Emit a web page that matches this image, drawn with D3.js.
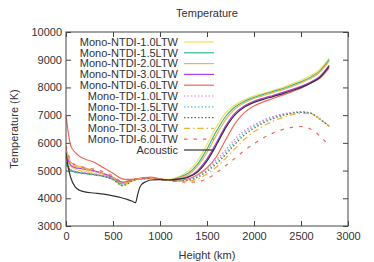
<!DOCTYPE html>
<html>
<head>
<meta charset="utf-8">
<script src="https://cdn.jsdelivr.net/npm/d3@7"></script>
<style>
  body { margin: 0; background: #fff; }
  text { font-family: "Liberation Sans", Arial, sans-serif; }
  .axis text { font-size: 11px; fill: #333; }
  .axis line { stroke: #444; }
  .axis path { display: none; }
</style>
</head>
<body>
<script>
let margin = {left: 66, top: 32, right: 26, bottom: 36};
let width = 374 - margin.left - margin.right;
let height = 262 - margin.top - margin.bottom;

let xTicks = [0, 500, 1000, 1500, 2000, 2500, 3000];
let yTicks = [3000, 4000, 5000, 6000, 7000, 8000, 9000, 10000];

let heights = [0, 50, 100, 150, 200, 300, 400, 500, 600, 650, 700, 800, 900, 1000, 1100, 1200,
  1300, 1400, 1500, 1600, 1700, 1800, 1900, 2000, 2100, 2200, 2300, 2400, 2500, 2600, 2700, 2800];

let ntdi10 = [5500, 5150, 5050, 5000, 4980, 4900, 4830, 4700, 4450, 4500, 4620, 4700, 4720, 4680, 4680, 4780,
  4980, 5350, 5950, 6580, 7080, 7370, 7560, 7690, 7790, 7890, 7990, 8130, 8260, 8420, 8650, 9060];
let ntdi15 = [5300, 5000, 4950, 4920, 4900, 4850, 4800, 4700, 4520, 4560, 4650, 4700, 4720, 4680, 4670, 4750,
  4900, 5230, 5780, 6420, 6960, 7300, 7500, 7640, 7750, 7850, 7950, 8070, 8200, 8360, 8590, 9000];
let ntdi20 = [5800, 5300, 5200, 5150, 5100, 5000, 4900, 4760, 4550, 4580, 4650, 4720, 4730, 4690, 4670, 4730,
  4850, 5150, 5650, 6280, 6850, 7230, 7450, 7600, 7710, 7810, 7910, 8030, 8160, 8320, 8550, 8950];
let ntdi30 = [5600, 5200, 5100, 5080, 5050, 4980, 4880, 4750, 4580, 4600, 4660, 4720, 4740, 4690, 4660, 4700,
  4780, 5000, 5420, 6000, 6620, 7080, 7340, 7500, 7610, 7710, 7810, 7920, 8040, 8190, 8400, 8800];
let ntdi60 = [7000, 5900, 5650, 5500, 5420, 5300, 5100, 4900, 4700, 4680, 4680, 4730, 4760, 4700, 4650, 4650,
  4700, 4850, 5100, 5500, 6120, 6700, 7100, 7330, 7480, 7600, 7720, 7840, 7970, 8150, 8330, 8700];
let tdi10 = [5400, 5050, 4980, 4950, 4930, 4870, 4800, 4680, 4520, 4560, 4640, 4700, 4720, 4680, 4650, 4640,
  4680, 4850, 5100, 5400, 5750, 6150, 6450, 6650, 6820, 6950, 7040, 7100, 7130, 7080, 6850, 6600];
let tdi15 = [5200, 4980, 4930, 4900, 4880, 4840, 4790, 4680, 4510, 4550, 4640, 4700, 4720, 4680, 4650, 4640,
  4660, 4800, 5030, 5320, 5660, 6050, 6370, 6590, 6770, 6910, 7010, 7080, 7110, 7080, 6860, 6600];
let tdi20 = [5300, 5000, 4950, 4920, 4900, 4850, 4790, 4670, 4460, 4510, 4620, 4700, 4720, 4680, 4650, 4630,
  4650, 4760, 4970, 5250, 5580, 5960, 6290, 6530, 6720, 6870, 6980, 7060, 7100, 7070, 6860, 6600];
let tdi30 = [5600, 5250, 5150, 5100, 5050, 4970, 4880, 4740, 4540, 4570, 4640, 4710, 4730, 4680, 4640, 4620,
  4620, 4700, 4880, 5130, 5450, 5800, 6130, 6400, 6610, 6780, 6910, 7010, 7060, 7050, 6860, 6600];
let tdi60 = [5900, 5350, 5200, 5150, 5100, 5050, 4950, 4800, 4600, 4620, 4660, 4720, 4740, 4690, 4630, 4600,
  4580, 4600, 4700, 4920, 5180, 5450, 5730, 5970, 6180, 6350, 6480, 6560, 6590, 6500, 6250, 5900];

let acousticHeights = [0, 25, 50, 100, 150, 200, 300, 400, 500, 600, 650, 700, 740, 760, 780, 800, 850, 900,
  1000, 1100, 1200, 1300, 1400, 1500, 1600, 1700, 1800, 1900, 2000, 2100, 2200, 2300, 2400, 2500, 2600, 2700, 2800];
let acoustic = [5650, 5100, 4750, 4400, 4280, 4230, 4190, 4150, 4090, 4010, 3960, 3900, 3840, 4100, 4350, 4480, 4600, 4660,
  4670, 4660, 4690, 4760, 4950, 5350, 5920, 6550, 7020, 7290, 7460, 7570, 7670, 7770, 7880, 8000, 8150, 8360, 8760];

let series = [
  {name: 'Mono-NTDI-1.0LTW', h: heights, t: ntdi10, color: '#f2e15c', dash: null},
  {name: 'Mono-NTDI-1.5LTW', h: heights, t: ntdi15, color: '#2fb896', dash: null},
  {name: 'Mono-NTDI-2.0LTW', h: heights, t: ntdi20, color: '#f0b548', dash: null},
  {name: 'Mono-NTDI-3.0LTW', h: heights, t: ntdi30, color: '#b23ae8', dash: null},
  {name: 'Mono-NTDI-6.0LTW', h: heights, t: ntdi60, color: '#f0685a', dash: null},
  {name: 'Mono-TDI-1.0LTW', h: heights, t: tdi10, color: '#d27ef5', dash: '1.5,2'},
  {name: 'Mono-TDI-1.5LTW', h: heights, t: tdi15, color: '#5cc4a6', dash: '1.5,2'},
  {name: 'Mono-TDI-2.0LTW', h: heights, t: tdi20, color: '#666666', dash: '1.5,2'},
  {name: 'Mono-TDI-3.0LTW', h: heights, t: tdi30, color: '#f0b030', dash: '6,3,1.5,3'},
  {name: 'Mono-TDI-6.0LTW', h: heights, t: tdi60, color: '#f0685a', dash: '3.5,6'},
  {name: 'Acoustic', h: acousticHeights, t: acoustic, color: '#333333', dash: null}
];

let svg = d3.select('body').append('svg')
  .attr('width', 374)
  .attr('height', 262);

let x = d3.scaleLinear().domain([0, 3000]).range([0, width]);
let y = d3.scaleLinear().domain([3000, 10000]).range([height, 0]);

let g = svg.append('g')
  .attr('transform', 'translate(' + margin.left + ',' + margin.top + ')');

// axes, ticks pointing inward, mirrored on top/right
g.append('g').attr('class', 'axis')
  .attr('transform', 'translate(0,' + height + ')')
  .call(d3.axisBottom(x).tickValues(xTicks).tickSize(-5).tickPadding(6).tickFormat(d3.format('d')));
g.append('g').attr('class', 'axis')
  .call(d3.axisTop(x).tickValues(xTicks).tickSize(-5).tickFormat(''));
g.append('g').attr('class', 'axis')
  .call(d3.axisLeft(y).tickValues(yTicks).tickSize(-5).tickPadding(4).tickFormat(d3.format('d')));
g.append('g').attr('class', 'axis')
  .attr('transform', 'translate(' + width + ',0)')
  .call(d3.axisRight(y).tickValues(yTicks).tickSize(-5).tickFormat(''));

let line = d3.line()
  .curve(d3.curveMonotoneX)
  .x(d => x(d[0]))
  .y(d => y(d[1]));

svg.append('clipPath').attr('id', 'clip')
  .append('rect').attr('width', width).attr('height', height);

let traces = g.append('g').attr('clip-path', 'url(#clip)');
series.forEach(s => {
  traces.append('path')
    .attr('d', line(s.h.map((h, i) => [h, s.t[i]])))
    .attr('fill', 'none')
    .attr('stroke', s.color)
    .attr('stroke-width', 1.2)
    .attr('stroke-dasharray', s.dash);
});

// legend
let legend = g.append('g');
series.forEach((s, i) => {
  let ly = 10 + i * 10.8;
  legend.append('text')
    .attr('x', 112)
    .attr('y', ly)
    .attr('dy', '0.35em')
    .attr('text-anchor', 'end')
    .style('font-size', '11px')
    .attr('fill', '#333')
    .text(s.name);
  legend.append('line')
    .attr('x1', 118).attr('x2', 148)
    .attr('y1', ly).attr('y2', ly)
    .attr('stroke', s.color)
    .attr('stroke-width', 1.2)
    .attr('stroke-dasharray', s.dash);
});

g.append('rect')
  .attr('width', width)
  .attr('height', height)
  .attr('fill', 'none')
  .attr('stroke', '#444')
  .attr('stroke-width', 1);

svg.append('text')
  .attr('x', margin.left + width / 2)
  .attr('y', 17)
  .attr('text-anchor', 'middle')
  .style('font-size', '11px')
  .attr('fill', '#333')
  .text('Temperature');

svg.append('text')
  .attr('x', margin.left + width / 2)
  .attr('y', 259)
  .attr('text-anchor', 'middle')
  .style('font-size', '11px')
  .attr('fill', '#333')
  .text('Height (km)');

svg.append('text')
  .attr('transform', 'translate(18,' + (margin.top + height / 2) + ') rotate(-90)')
  .attr('text-anchor', 'middle')
  .style('font-size', '11px')
  .attr('fill', '#333')
  .text('Temperature (K)');
</script>
</body>
</html>
